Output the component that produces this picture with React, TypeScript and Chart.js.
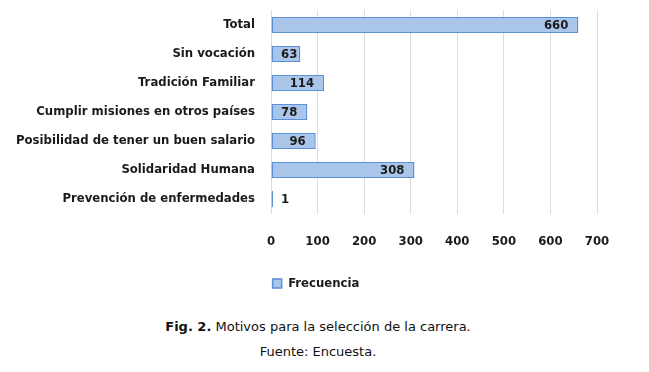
import React, { useEffect, useRef } from "react";
import { Chart, registerables } from "chart.js";

Chart.register(...registerables);

const categories = [
  "Total",
  "Sin vocación",
  "Tradición Familiar",
  "Cumplir misiones en otros países",
  "Posibilidad de tener un buen salario",
  "Solidaridad Humana",
  "Prevención de enfermedades",
];
const frecuencia = [660, 63, 114, 78, 96, 308, 1];
const seriesName = "Frecuencia";
const xTicks = [0, 100, 200, 300, 400, 500, 600, 700];

const FONT = "'DejaVu Sans Condensed', 'DejaVu Sans', Verdana, sans-serif";

const valueLabels = {
  id: "valueLabels",
  afterDatasetsDraw(chart: any) {
    const ctx = chart.ctx;
    const meta = chart.getDatasetMeta(0);
    const base = chart.scales.x.getPixelForValue(0);
    ctx.save();
    ctx.font = `bold 13px ${FONT}`;
    ctx.fillStyle = "#1a1a1a";
    ctx.textBaseline = "middle";
    meta.data.forEach((bar: any, i: number) => {
      const txt = String(frecuencia[i]);
      const w = ctx.measureText(txt).width;
      let right = bar.x - 10;
      if (right - w < base + 10) right = base + 10 + w;
      ctx.textAlign = "right";
      ctx.fillText(txt, right, bar.y + 1);
    });
    ctx.restore();
  },
};

export default function App() {
  const ref = useRef<HTMLCanvasElement>(null);
  useEffect(() => {
    if (!ref.current) return;
    const chart = new Chart(ref.current, {
      type: "bar",
      data: {
        labels: categories,
        datasets: [
          {
            label: seriesName,
            data: frecuencia,
            backgroundColor: "#a9c6ea",
            borderColor: "#5b8fd6",
            borderWidth: 1.5,
            borderSkipped: false,
            minBarLength: 2,
            barPercentage: 0.55,
            categoryPercentage: 1,
          },
        ],
      },
      options: {
        indexAxis: "y",
        animation: false,
        responsive: false,
        devicePixelRatio: 1,
        layout: { padding: { top: 2.5, right: 17, left: 0, bottom: 4 } },
        scales: {
          x: {
            min: 0,
            max: 700,
            afterBuildTicks: (s: any) => {
              s.ticks = xTicks.map((v) => ({ value: v }));
            },
            afterFit: (s: any) => {
              s.height = 53.5;
              s.paddingLeft = 0;
              s.paddingRight = 44;
            },
            grid: { color: "#dcdcdc", drawTicks: false },
            border: { display: false },
            ticks: {
              padding: 20,
              color: "#1a1a1a",
              font: { family: FONT, size: 13, weight: "bold" },
            },
          },
          y: {
            grid: { display: false, drawTicks: false },
            border: { display: false },
            afterFit: (s: any) => {
              s.width = 263;
              s.paddingTop = 0;
              s.paddingBottom = 0;
            },
            ticks: {
              padding: 16,
              color: "#1a1a1a",
              font: { family: FONT, size: 13, weight: "bold" },
            },
          },
        },
        plugins: {
          legend: {
            position: "bottom",
            labels: {
              boxWidth: 9,
              boxHeight: 9,
              padding: 10,
              color: "#1a1a1a",
              font: { family: FONT, size: 13, weight: "bold" },
            },
          },
          tooltip: { enabled: false },
        },
      },
      plugins: [valueLabels],
    });
    return () => chart.destroy();
  }, []);
  return (
    <div style={{ width: 633 }}>
      <canvas ref={ref} width={633} height={296} style={{ display: "block" }} />
      <div
        style={{
          width: 620,
          textAlign: "center",
          fontFamily: "'DejaVu Sans', Verdana, sans-serif",
          fontSize: 13,
          color: "#111",
          lineHeight: "25px",
          marginTop: 10,
        }}
      >
        <div>
          <b>Fig. 2.</b> Motivos para la selección de la carrera.
        </div>
        <div>Fuente: Encuesta.</div>
      </div>
    </div>
  );
}
